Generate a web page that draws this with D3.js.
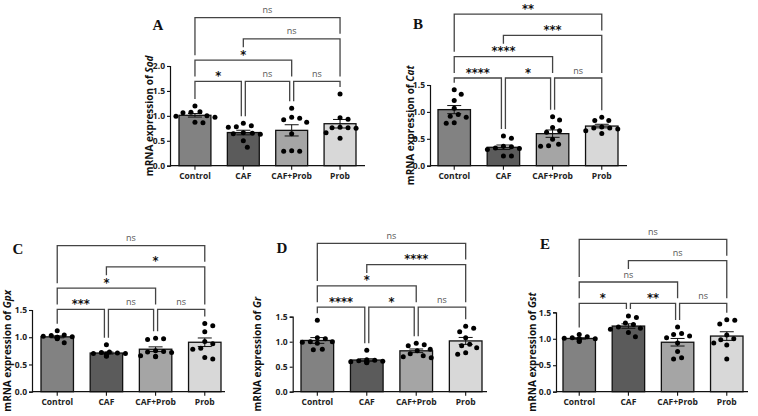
<!DOCTYPE html>
<html>
<head>
<meta charset="utf-8">
<script src="https://cdn.jsdelivr.net/npm/d3@7"></script>
<style>
  body { margin: 0; background: #fff; }
  svg { display: block; }
  .tick text { font-family: "Open Sans", sans-serif; font-weight: 700; fill: #222; }
</style>
</head>
<body>
<svg id="svg" width="758" height="416"></svg>
<script>
// groups and values
const groups = ["Control", "CAF", "CAF+Prob", "Prob"];

const sodValues = [
  [1.20, 1.08, 1.07, 1.06, 1.00, 0.99, 0.97, 0.87, 0.86],
  [0.85, 0.80, 0.78, 0.77, 0.66, 0.65, 0.64, 0.63, 0.50, 0.37],
  [1.15, 0.97, 0.95, 0.92, 0.87, 0.64, 0.30, 0.29, 0.29],
  [1.44, 0.96, 0.93, 0.77, 0.76, 0.76, 0.75, 0.66, 0.55]
];
const catValues = [
  [1.41, 1.33, 1.21, 1.07, 0.95, 0.92, 0.90, 0.80, 0.79],
  [0.55, 0.51, 0.36, 0.35, 0.33, 0.32, 0.30, 0.18, 0.18],
  [0.91, 0.85, 0.71, 0.65, 0.62, 0.49, 0.40, 0.37, 0.36],
  [0.90, 0.84, 0.84, 0.72, 0.70, 0.70, 0.68, 0.65, 0.60]
];
const gpxValues = [
  [1.12, 1.04, 1.03, 1.02, 1.01, 1.00, 1.00, 0.98, 0.97, 0.90],
  [0.86, 0.73, 0.72, 0.71, 0.70, 0.70, 0.69, 0.68, 0.66, 0.65],
  [0.98, 0.97, 0.96, 0.75, 0.74, 0.73, 0.72, 0.66, 0.64, 0.65],
  [1.25, 1.21, 1.10, 0.92, 0.88, 0.80, 0.78, 0.63, 0.60]
];
const grValues = [
  [1.43, 1.08, 1.06, 1.00, 1.00, 0.99, 0.97, 0.85, 0.84],
  [0.83, 0.64, 0.63, 0.62, 0.61, 0.60, 0.60, 0.59, 0.58],
  [0.97, 0.94, 0.92, 0.85, 0.82, 0.76, 0.72, 0.70, 0.68],
  [1.31, 1.27, 1.20, 1.08, 0.95, 0.92, 0.88, 0.78, 0.75]
];
const gstValues = [
  [1.08, 1.04, 1.02, 1.01, 1.00, 1.00, 0.99, 0.96, 0.95],
  [1.43, 1.40, 1.30, 1.27, 1.22, 1.20, 1.18, 1.12, 1.04],
  [1.22, 1.10, 1.08, 1.05, 1.02, 0.92, 0.76, 0.64, 0.62],
  [1.36, 1.35, 1.28, 1.07, 1.00, 0.98, 0.92, 0.88, 0.62]
];

const ticksSod = [0, 0.5, 1.0, 1.5, 2.0];
const ticksOther = [0, 0.5, 1.0, 1.5];

// comparisons, top row first
const pairs = [[0, 3], [1, 3], [0, 2], [0, 1], [1, 2], [2, 3]];
const pairRows = [3, 2, 1, 0, 0, 0];
const sodSig = ["ns", "ns", "*", "*", "ns", "ns"];
const catSig = ["**", "***", "****", "****", "*", "ns"];
const gpxSig = ["ns", "*", "*", "***", "ns", "ns"];
const grSig = ["ns", "****", "*", "****", "*", "ns"];
const gstSig = ["ns", "ns", "ns", "*", "**", "ns"];
// level of the lowest bracket row, in axis units
const bracketBase = [1.69, 1.63, 1.51, 1.69, 1.67];

const barColors = ["#828282", "#5b5b5b", "#a5a5a5", "#d8d8d8"];

let svg = d3.select("#svg");

function renderPanel(p){
    let y = d3.scaleLinear().domain([0, p.ticks[p.ticks.length-1]]).range([p.yBase, p.yTop]);
    let x = d3.scaleBand().domain(groups).range([p.b0, p.b1]).paddingInner(0.34).paddingOuter(0);
    let cx = function(i){ return x(groups[i]) + x.bandwidth()/2 };

    let stats = p.values.map(function(v){
        let m = d3.mean(v);
        let sem = d3.deviation(v)/Math.sqrt(v.length);
        return {mean: m, sem: sem, max: d3.max(v)};
    });

    let g = svg.append("g");

    // bars
    g.append("g")
    .selectAll("rect")
    .data(stats)
    .enter()
    .append("rect")
    .attr("x", function(d,i){ return x(groups[i]) })
    .attr("y", function(d){ return y(d.mean) })
    .attr("width", x.bandwidth())
    .attr("height", function(d){ return y(0) - y(d.mean) })
    .attr("fill", function(d,i){ return barColors[i] })
    .attr("stroke", "#111")
    .attr("stroke-width", 1.3);

    // axes
    let yAxis = g.append("g")
    .attr("transform", "translate(" + p.x0 + ",0)")
    .call(d3.axisLeft(y).tickValues(p.ticks).tickFormat(d3.format(".1f")).tickSize(3).tickPadding(2));
    yAxis.select(".domain").attr("stroke", "#111").attr("stroke-width", 1.2);
    yAxis.selectAll(".tick line").attr("stroke", "#111").attr("stroke-width", 1.1);
    yAxis.selectAll("text").attr("font-size", 8.5);

    let xAxis = g.append("g")
    .attr("transform", "translate(0," + p.yBase + ")")
    .call(d3.axisBottom(x).tickSize(4).tickPadding(3).tickSizeOuter(0));
    xAxis.select(".domain").attr("d", "M" + p.x0 + ",0H" + p.x1).attr("stroke", "#111").attr("stroke-width", 1.2);
    xAxis.selectAll(".tick line").attr("stroke", "#111").attr("stroke-width", 1.1);
    xAxis.selectAll("text").attr("font-size", 8.5);

    // error bars (mean +/- SEM)
    let eb = g.append("g").attr("stroke", "#111").attr("stroke-width", 1);
    stats.forEach(function(d,i){
        let c = cx(i);
        eb.append("line").attr("x1", c).attr("x2", c).attr("y1", y(d.mean - d.sem)).attr("y2", y(d.mean + d.sem));
        eb.append("line").attr("x1", c-7).attr("x2", c+7).attr("y1", y(d.mean + d.sem)).attr("y2", y(d.mean + d.sem));
        eb.append("line").attr("x1", c-7).attr("x2", c+7).attr("y1", y(d.mean - d.sem)).attr("y2", y(d.mean - d.sem));
    });

    // points, simple greedy swarm
    let r = 2.5;
    let dots = [];
    p.values.forEach(function(v,i){
        let placed = [];
        v.slice().sort(function(a,b){ return b-a }).forEach(function(val){
            let py = y(val);
            let off = 0;
            for (let k = 0; k < 40; k++){
                let o = (k % 2 ? 1 : -1) * Math.ceil(k/2) * 1;
                let ok = placed.every(function(q){
                    return Math.hypot(q.dx - o, q.py - py) >= 7.5;
                });
                if (ok){ off = o; break; }
            }
            placed.push({dx: off, py: py});
            dots.push({x: cx(i) + off, y: py});
        });
    });
    g.append("g")
    .selectAll("circle")
    .data(dots)
    .enter()
    .append("circle")
    .attr("cx", function(d){ return d.x })
    .attr("cy", function(d){ return d.y })
    .attr("r", r)
    .attr("fill", "#000");

    // significance brackets
    let step = 21.3;
    let br = pairs.map(function(pr,k){
        let row = pairRows[k];
        let xl = cx(pr[0]), xr = cx(pr[1]);
        pairs.forEach(function(o,j){
            if (j == k || pairRows[j] != row) return;
            if (o[1] == pr[0]) xl += 2;
            if (o[0] == pr[1]) xr -= 2;
        });
        let lab = p.sig[k];
        let w = lab == "ns" ? 10 : lab.length*5.6;
        return {xl: xl, xr: xr, ly: y(p.base) - row*step, lab: lab, w: w, a: pr[0], b: pr[1]};
    });
    let legBottom = function(b, lx, col){
        let d = stats[col];
        let bottom = y(Math.max(d.max, d.mean + d.sem)) - r - 4.5;
        br.forEach(function(o){
            if (o.ly <= b.ly + 1) return;
            if (lx >= o.xl - 3 && lx <= o.xr + 3) bottom = Math.min(bottom, o.ly - 5);
            if (Math.abs(lx - (o.xl+o.xr)/2) < o.w/2 + 2) bottom = Math.min(bottom, o.ly - 13);
        });
        return bottom;
    };
    let bg = g.append("g");
    br.forEach(function(b){
        let bl = legBottom(b, b.xl, b.a), brt = legBottom(b, b.xr, b.b);
        bg.append("path")
        .attr("d", "M" + b.xl + "," + bl + "V" + b.ly + "H" + b.xr + "V" + brt)
        .attr("fill", "none")
        .attr("stroke", "#444")
        .attr("stroke-width", 1.3);
        let ns = b.lab == "ns";
        bg.append("text")
        .attr("x", (b.xl + b.xr)/2)
        .attr("y", ns ? b.ly - 4.5 : b.ly - 1.5)
        .attr("text-anchor", "middle")
        .attr("font-family", ns ? "'Open Sans', sans-serif" : "'DejaVu Sans', sans-serif")
        .attr("font-size", ns ? 9 : 11.5)
        .attr("font-weight", ns ? 400 : 700)
        .attr("fill", ns ? "#555" : "#111")
        .text(b.lab);
    });

    // y label
    let mid = (p.yBase + p.yTop)/2;
    let t = g.append("text")
    .attr("transform", "translate(" + p.labelX + "," + mid + ") rotate(-90)")
    .attr("text-anchor", "middle")
    .attr("dominant-baseline", "central")
    .attr("font-family", "'Open Sans', sans-serif")
    .attr("font-weight", 700)
    .attr("font-size", 10)
    .attr("fill", "#111");
    t.append("tspan").text("mRNA expression of ");
    t.append("tspan").attr("font-style", "italic").text(p.gene);

    // panel letter
    g.append("text")
    .attr("x", p.letterX)
    .attr("y", p.letterY)
    .attr("text-anchor", "middle")
    .attr("font-family", "'Liberation Serif', 'Times New Roman', serif")
    .attr("font-weight", 700)
    .attr("font-size", 15)
    .attr("fill", "#111")
    .text(p.letter);
}

let panels = [
    {letter: "A", gene: "Sod", values: sodValues, sig: sodSig, base: bracketBase[0], ticks: ticksSod,
     x0: 170, x1: 365, b0: 179, b1: 356, yBase: 165.7, yTop: 66, labelX: 149, letterX: 158, letterY: 30},
    {letter: "B", gene: "Cat", values: catValues, sig: catSig, base: bracketBase[1], ticks: ticksOther,
     x0: 430, x1: 627, b0: 438, b1: 618, yBase: 165.7, yTop: 85, labelX: 410, letterX: 418, letterY: 29},
    {letter: "C", gene: "Gpx", values: gpxValues, sig: gpxSig, base: bracketBase[2], ticks: ticksOther,
     x0: 32, x1: 225, b0: 41, b1: 221, yBase: 391.7, yTop: 310, labelX: 7, letterX: 18, letterY: 254},
    {letter: "D", gene: "Gr", values: grValues, sig: grSig, base: bracketBase[3], ticks: ticksOther,
     x0: 292.7, x1: 487, b0: 301, b1: 482, yBase: 391.7, yTop: 316.7, labelX: 257, letterX: 282, letterY: 253},
    {letter: "E", gene: "Gst", values: gstValues, sig: gstSig, base: bracketBase[4], ticks: ticksOther,
     x0: 556, x1: 748, b0: 563, b1: 743, yBase: 391.7, yTop: 312.3, labelX: 532, letterX: 545, letterY: 249}
];

panels.forEach(renderPanel);
</script>
</body>
</html>
